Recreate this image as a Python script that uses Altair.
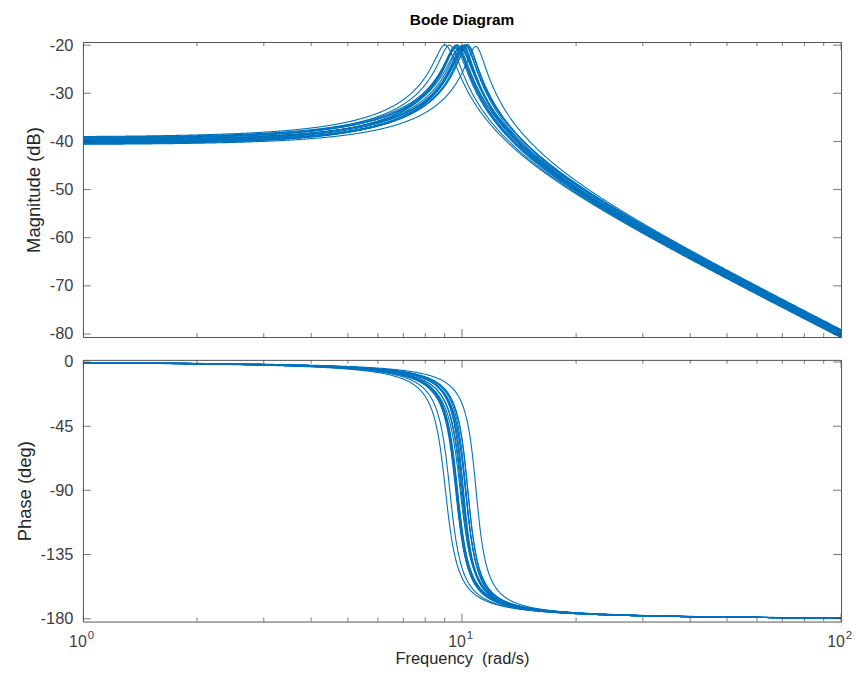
import altair as alt
import numpy as np
import pandas as pd

# 20 samples of an uncertain mass-spring-damper G(s) = 1 / (m s^2 + c s + k),
# parameters (DC gain, resonance peak, high-frequency level)
mass = [1.10, 0.91, 1.02, 0.95, 1.05, 0.98, 1.00, 1.08, 0.93, 1.03,
        0.97, 1.06, 0.92, 1.01, 1.09, 0.96, 0.99, 1.04, 0.94, 1.07]
damping = [1.10, 0.95, 1.05, 0.95, 1.08, 1.02, 0.98, 1.12, 1.00, 1.00,
           1.06, 1.03, 0.97, 1.10, 1.08, 0.99, 1.04, 1.00, 1.07, 1.04]
stiffness = [90, 108, 95, 102, 99, 93, 105, 100, 97, 104,
             91, 107, 96, 101, 94, 103, 98, 106, 92, 100]

mag_ticks = [-80, -70, -60, -50, -40, -30, -20]
phase_ticks = [-180, -135, -90, -45, 0]
major_x = [1, 10, 100]
minor_x = [2, 3, 4, 5, 6, 7, 8, 9, 20, 30, 40, 50, 60, 70, 80, 90]
x_base = ["10", "10", "10"]
x_exp = ["0", "1", "2"]

freq = np.logspace(0, 2, 1500)
rows = []
for i, (m, c, k) in enumerate(zip(mass, damping, stiffness)):
    h = 1.0 / (k - m * freq**2 + 1j * c * freq)
    mag = 20 * np.log10(np.abs(h))
    ph = np.degrees(np.angle(h))
    rows.append(pd.DataFrame({"sample": i, "w": freq, "mag": mag, "phase": ph}))
df = pd.concat(rows, ignore_index=True)

major_df = pd.DataFrame({"w": major_x})
minor_df = pd.DataFrame({"w": minor_x})
lab_df = pd.DataFrame({"w": major_x, "base": x_base, "exp": x_exp})
mag_df = pd.DataFrame({"v": mag_ticks})
ph_df = pd.DataFrame({"v": phase_ticks})

FONT = "Liberation Sans"
W = 762
H1 = 296.5
H2 = 263
LINE = "#0072BD"
AX = "#404040"

xscale = alt.Scale(type="log", domain=[1, 100], nice=False)


def frame_ticks(yvals_df, yscale, h):
    layers = []
    for yv in (0, h):
        layers.append(
            alt.Chart(major_df).mark_tick(size=16, thickness=1, clip=True, color=AX, orient="vertical")
            .encode(x=alt.X("w:Q", scale=xscale), y=alt.value(yv))
        )
        layers.append(
            alt.Chart(minor_df).mark_tick(size=8, thickness=1, clip=True, color=AX, orient="vertical")
            .encode(x=alt.X("w:Q", scale=xscale), y=alt.value(yv))
        )
    for xv in (0, W):
        layers.append(
            alt.Chart(yvals_df).mark_tick(size=16, thickness=1, clip=True, color=AX, orient="horizontal")
            .encode(y=alt.Y("v:Q", scale=yscale), x=alt.value(xv))
        )
    return layers


mag_scale = alt.Scale(domain=[-80.62, -19.35], nice=False, zero=False)
ph_scale = alt.Scale(domain=[-181.9, 1.4], nice=False, zero=False)

LBL = "toString(datum.value)"

top_lines = alt.Chart(df).mark_line(clip=True, strokeWidth=1.1, color=LINE).encode(
    x=alt.X("w:Q", scale=xscale, axis=None),
    y=alt.Y("mag:Q", scale=mag_scale,
            axis=alt.Axis(values=mag_ticks, ticks=False, domain=False, grid=False, labelExpr=LBL,
                          labelPadding=10, title="Magnitude (dB)", titlePadding=6)),
    detail="sample:N",
)

top = alt.layer(top_lines, *frame_ticks(mag_df, mag_scale, H1)).properties(
    width=W, height=H1,
    title=alt.TitleParams("Bode Diagram", fontSize=15.5, fontWeight="bold", font=FONT,
                          color="black", anchor="middle", frame="group", offset=9),
)

bot_lines = alt.Chart(df).mark_line(clip=True, strokeWidth=1.1, color=LINE).encode(
    x=alt.X("w:Q", scale=xscale,
            axis=alt.Axis(labels=False, ticks=False, domain=False, grid=False,
                          title="Frequency \u00a0(rad/s)", titlePadding=29, titleFontSize=16.5)),
    y=alt.Y("phase:Q", scale=ph_scale,
            axis=alt.Axis(values=phase_ticks, ticks=False, domain=False, grid=False, labelExpr=LBL,
                          labelPadding=10, title="Phase (deg)", titlePadding=6)),
    detail="sample:N",
)

base_txt = alt.Chart(lab_df).mark_text(font=FONT, fontSize=16, color=AX, align="center",
                                       baseline="alphabetic", dx=-5).encode(
    x=alt.X("w:Q", scale=xscale), y=alt.value(H2 + 26), text="base:N")
exp_txt = alt.Chart(lab_df).mark_text(font=FONT, fontSize=11.5, color=AX, align="center",
                                      baseline="alphabetic", dx=8).encode(
    x=alt.X("w:Q", scale=xscale), y=alt.value(H2 + 17.5), text="exp:N")

bottom = alt.layer(bot_lines, *frame_ticks(ph_df, ph_scale, H2), base_txt, exp_txt).properties(
    width=W, height=H2)

chart = alt.vconcat(top, bottom, spacing=9.5).properties(
    padding={"left": 6.3, "top": 2.5, "right": 0, "bottom": 0}
).configure_view(stroke="#555555", strokeWidth=1).configure_axis(
    labelFont=FONT, titleFont=FONT, labelFontSize=16.5, titleFontSize=18.5,
    labelColor=AX, titleColor="#262626", titleFontWeight="normal",
)

chart.save("out.html", embed_options={"renderer": "svg", "actions": False})
